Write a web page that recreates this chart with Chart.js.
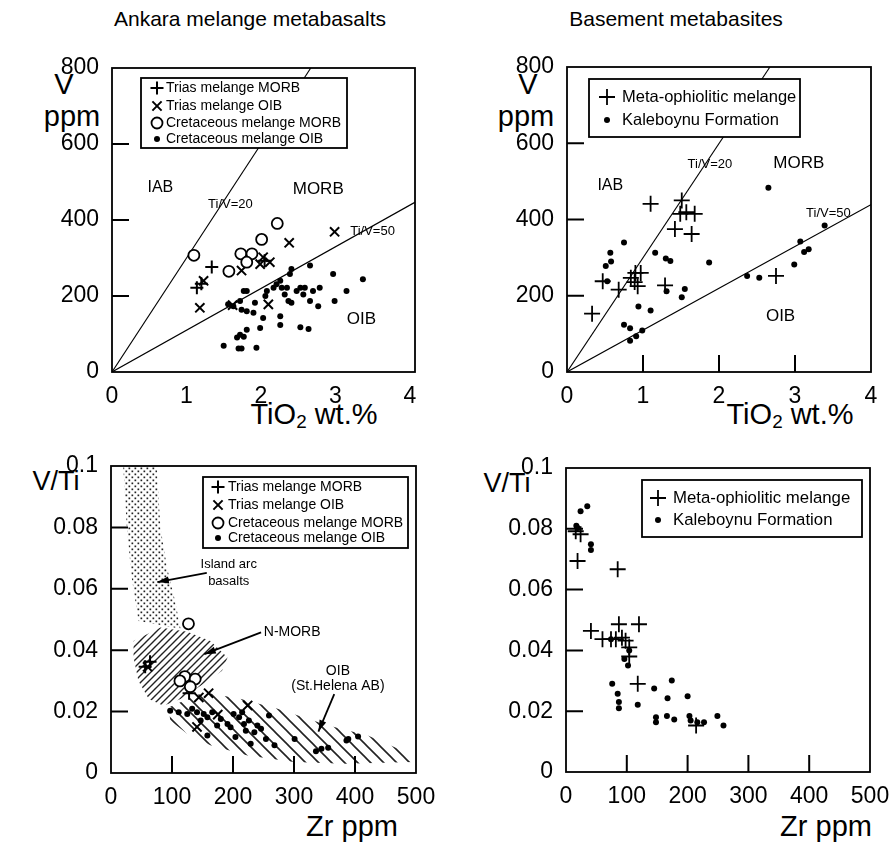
<!DOCTYPE html>
<html>
<head>
<meta charset="utf-8">
<script src="https://cdn.jsdelivr.net/npm/chart.js@4.4.0/dist/chart.umd.min.js"></script>
<style>
  body { margin: 0; background: #fff; width: 892px; height: 848px; position: relative; overflow: hidden;
         font-family: "Liberation Sans", Arial, sans-serif; color: #000; }
  canvas { position: absolute; }
  .t { position: absolute; white-space: nowrap; transform: translate(-50%, -50%); line-height: 1; }
  .t sub { font-size: 65%; vertical-align: -0.25em; }
</style>
</head>
<body>
<div class="t" style="left:250px;top:18px;font-size:21px">Ankara melange metabasalts</div>
<div class="t" style="left:676px;top:18px;font-size:21px">Basement metabasites</div>

<div class="t" style="left:64px;top:84px;font-size:29px">V</div>
<div class="t" style="left:72px;top:116px;font-size:29px">ppm</div>
<div class="t" style="left:314px;top:416px;font-size:29px">TiO<sub>2</sub> wt.%</div>
<div class="t" style="left:528px;top:84px;font-size:29px">V</div>
<div class="t" style="left:526px;top:116px;font-size:29px">ppm</div>
<div class="t" style="left:790px;top:416px;font-size:29px">TiO<sub>2</sub> wt.%</div>
<div class="t" style="left:56px;top:481px;font-size:27px">V/Ti</div>
<div class="t" style="left:352px;top:826px;font-size:29px">Zr ppm</div>
<div class="t" style="left:507px;top:483px;font-size:27px">V/Ti</div>
<div class="t" style="left:826px;top:826px;font-size:29px">Zr ppm</div>

<canvas id="p1"></canvas>
<canvas id="p2"></canvas>
<canvas id="p3"></canvas>
<canvas id="p4"></canvas>

<script>
// ---- Panel 1: Ankara melange, V vs TiO2 ----
const p1TriasMorbTi = [1.14, 1.34, 1.20, 2.05];
const p1TriasMorbV  = [222, 276, 232, 293];
const p1TriasOibTi  = [1.23, 1.18, 2.38, 2.03, 2.12, 1.99, 1.74, 2.10, 1.62, 2.99];
const p1TriasOibV   = [240, 169, 340, 302, 289, 284, 267, 178, 176, 369];
const p1CretMorbTi  = [1.10, 1.57, 1.73, 1.88, 1.81, 2.01, 2.22];
const p1CretMorbV   = [307, 265, 311, 311, 289, 349, 391];
const p1CretOibTi   = [1.56, 1.63, 1.72, 1.77, 1.81, 1.74, 1.81, 1.90, 1.92, 2.06, 2.08, 2.03, 1.99, 1.81, 1.72, 1.68,
                       1.77, 1.70, 1.74, 1.94, 1.50, 2.17, 2.21, 2.26, 2.28, 2.35, 2.41, 2.39, 2.32, 2.37, 2.41, 2.48,
                       2.53, 2.59, 2.66, 2.57, 2.66, 2.70, 2.77, 2.79, 2.97, 2.99, 3.15, 3.37, 2.26, 2.26, 2.53, 2.64];
const p1CretOibV    = [178, 173, 187, 213, 213, 164, 160, 156, 182, 200, 213, 142, 116, 111, 98, 91,
                       93, 62, 62, 64, 69, 222, 231, 240, 222, 222, 271, 258, 204, 187, 182, 213,
                       222, 222, 280, 204, 187, 213, 173, 222, 258, 187, 213, 244, 147, 124, 118, 113];

// ---- Panel 2: Basement, V vs TiO2 ----
const p2MetaTi = [0.33, 0.47, 0.68, 0.84, 0.90, 0.97, 0.89, 0.93, 1.10, 1.29, 1.51, 1.49, 1.57, 1.68, 1.42, 1.64, 2.75];
const p2MetaV  = [153, 238, 216, 247, 260, 260, 236, 225, 441, 227, 450, 415, 419, 415, 375, 362, 252];
const p2KaleTi = [0.75, 0.57, 0.58, 0.51, 0.53, 1.16, 1.30, 1.36, 1.87, 0.94, 1.10, 0.75, 0.83, 0.99, 0.91, 0.83,
                  1.31, 1.55, 1.51, 2.37, 2.53, 2.65, 3.07, 3.12, 3.18, 2.99, 3.39];
const p2KaleV  = [340, 313, 290, 278, 238, 313, 298, 291, 287, 172, 161, 124, 115, 109, 94, 82,
                  212, 218, 196, 252, 247, 483, 342, 315, 322, 282, 384];

// Ti/V reference lines (end points)
const tiV20Ti = [0, 2.67];
const tiV20V  = [0, 800];
const tiV50Ti = [0, 4.1];
const tiV50V  = [0, 450];

// tick labels
const tiTicks = [0, 1, 2, 3, 4];
const vTicks  = [0, 200, 400, 600, 800];
const zrTicks = [0, 100, 200, 300, 400, 500];
const vtiTicks = [0, 0.02, 0.04, 0.06, 0.08, 0.1];

// ---- Panel 3: Ankara melange, V/Ti vs Zr ----
const p3TriasMorbZr = [56, 64, 128];
const p3TriasMorbVTi = [0.0346, 0.0362, 0.026];
const p3TriasOibZr = [60, 160, 144, 224, 141, 175];
const p3TriasOibVTi = [0.0346, 0.026, 0.0246, 0.022, 0.015, 0.019];
const p3CretMorbZr = [127, 121, 138, 130, 113];
const p3CretMorbVTi = [0.0486, 0.0314, 0.0306, 0.0281, 0.030];
const p3CretOibZr = [97, 111, 125, 133, 141, 147, 152, 158, 166, 158, 174, 180, 191, 196, 201, 204, 210, 215,
                     218, 221, 226, 229, 235, 240, 246, 254, 259, 268, 301, 336, 345, 356, 386, 389, 405];
const p3CretOibVTi = [0.0203, 0.0198, 0.0192, 0.0209, 0.0198, 0.0171, 0.0192, 0.0182, 0.0198, 0.0122, 0.0155,
                      0.0176, 0.016, 0.0149, 0.0192, 0.0117, 0.0182, 0.0198, 0.016, 0.0138, 0.0171, 0.0095,
                      0.0133, 0.0155, 0.0144, 0.0111, 0.0187, 0.009, 0.0111, 0.0071, 0.0079, 0.0082, 0.0106,
                      0.0111, 0.0119];

// fields in panel 3 (outline vertices)
const iabFieldZr  = [20, 26, 34, 45, 114, 105, 92, 81, 75];
const iabFieldVTi = [0.1, 0.08, 0.0636, 0.0495, 0.047, 0.056, 0.0668, 0.08, 0.1];
const nmorbFieldZr  = [37, 81, 125, 163, 191, 182, 147, 114, 86, 62, 45, 37];
const nmorbFieldVTi = [0.043, 0.0474, 0.046, 0.043, 0.0376, 0.0333, 0.0284, 0.0241, 0.0219, 0.0241, 0.030, 0.0376];
const oibFieldZr  = [95, 152, 213, 273, 356, 421, 496, 496, 383, 300, 224, 163, 125, 97];
const oibFieldVTi = [0.0214, 0.0263, 0.0241, 0.0209, 0.0155, 0.0122, 0.0057, 0.0036, 0.003, 0.0036, 0.0057,
                     0.009, 0.0128, 0.0171];

// ---- Panel 4: Basement, V/Ti vs Zr ----
const p4MetaZr  = [16, 24, 19, 85, 41, 60, 74, 87, 82, 92, 98, 104, 104, 120, 118, 214];
const p4MetaVTi = [0.0792, 0.0782, 0.0694, 0.0667, 0.0464, 0.0437, 0.0437, 0.0486, 0.0437, 0.0442, 0.0432,
                   0.041, 0.038, 0.0486, 0.029, 0.0153];
const p4KaleZr  = [19, 24, 35, 41, 41, 74, 96, 102, 104, 76, 85, 87, 87, 118, 145, 148, 148, 167, 166, 174,
                   178, 200, 203, 205, 216, 227, 249, 259, 17];
const p4KaleVTi = [0.0803, 0.0858, 0.0874, 0.0749, 0.073, 0.0437, 0.0372, 0.035, 0.040, 0.029, 0.0257, 0.023,
                   0.021, 0.0221, 0.0275, 0.018, 0.0164, 0.0243, 0.0184, 0.0301, 0.0173, 0.0249, 0.0184,
                   0.0169, 0.0164, 0.0164, 0.0184, 0.0153, 0.081];

const FONT = '"Liberation Sans", Arial, sans-serif';
const pts = (xs, ys) => xs.map((x, i) => ({ x: x, y: ys[i] }));

// marker styles
const sym = {
  plus:   { pointStyle: 'cross',    pointRadius: 6.5, pointBorderWidth: 2, pointBorderColor: '#000', pointBackgroundColor: '#000' },
  plusL:  { pointStyle: 'cross',    pointRadius: 8, pointBorderWidth: 1.8, pointBorderColor: '#000', pointBackgroundColor: '#000' },
  cross:  { pointStyle: 'crossRot', pointRadius: 6.5, pointBorderWidth: 2, pointBorderColor: '#000', pointBackgroundColor: '#000' },
  circle: { pointStyle: 'circle',   pointRadius: 5.5, pointBorderWidth: 1.8, pointBorderColor: '#000', pointBackgroundColor: '#fff' },
  dot:    { pointStyle: 'circle',   pointRadius: 3, pointBorderWidth: 0, pointBorderColor: '#000', pointBackgroundColor: '#000' }
};

function lineSet(xs, ys) {
  return { data: pts(xs, ys), showLine: true, borderColor: '#000', borderWidth: 1.1, pointRadius: 0, order: 5 };
}
function markSet(label, xs, ys, s) {
  return Object.assign({ label: label, data: pts(xs, ys), showLine: false }, s);
}

// patterns for the fields
function makePattern(kind) {
  const c = document.createElement('canvas');
  const g = c.getContext('2d');
  if (kind === 'dots') {
    c.width = 6; c.height = 6;
    g.fillStyle = '#222';
    g.fillRect(0.5, 0.5, 1.7, 1.7);
    g.fillRect(3.5, 3.5, 1.7, 1.7);
  } else if (kind === 'fwd') {
    c.width = 7; c.height = 7;
    g.strokeStyle = '#222'; g.lineWidth = 1.4;
    g.beginPath();
    g.moveTo(-1, 8); g.lineTo(8, -1);
    g.moveTo(-1, 1); g.lineTo(1, -1);
    g.moveTo(6, 8); g.lineTo(8, 6);
    g.stroke();
  } else {
    c.width = 13; c.height = 13;
    g.strokeStyle = '#222'; g.lineWidth = 1.6;
    g.beginPath();
    g.moveTo(-1, -1); g.lineTo(14, 14);
    g.moveTo(12, -1); g.lineTo(14, 1);
    g.moveTo(-1, 12); g.lineTo(1, 14);
    g.stroke();
  }
  return g.createPattern(c, 'repeat');
}

// plot frame + inward ticks
const framePlugin = {
  id: 'frame',
  afterDraw(chart, args, opts) {
    const { ctx, chartArea: a } = chart;
    ctx.save();
    ctx.strokeStyle = '#000';
    ctx.lineWidth = 1.8;
    ctx.strokeRect(a.left, a.top, a.right - a.left, a.bottom - a.top);
    ctx.lineWidth = 2;
    ctx.beginPath();
    if (opts.y) {
      const ys = chart.scales.y;
      ys.ticks.forEach(t => {
        if (t.value <= ys.min || t.value >= ys.max) return;
        const py = ys.getPixelForValue(t.value);
        ctx.moveTo(a.left, py); ctx.lineTo(a.left + opts.len, py);
      });
    }
    if (opts.x) {
      const xs = chart.scales.x;
      xs.ticks.forEach(t => {
        if (t.value <= xs.min || t.value >= xs.max) return;
        const px = xs.getPixelForValue(t.value);
        ctx.moveTo(px, a.bottom); ctx.lineTo(px, a.bottom - opts.len);
      });
    }
    ctx.stroke();
    ctx.restore();
  }
};

// shaded fields drawn below the points
const fieldsPlugin = {
  id: 'fields',
  beforeDatasetsDraw(chart, args, opts) {
    if (!opts.list) return;
    const { ctx, chartArea: a } = chart;
    const xs = chart.scales.x, ys = chart.scales.y;
    ctx.save();
    ctx.beginPath();
    ctx.rect(a.left, a.top, a.right - a.left, a.bottom - a.top);
    ctx.clip();
    opts.list.forEach(f => {
      ctx.beginPath();
      f.xs.forEach((v, i) => {
        const px = xs.getPixelForValue(v), py = ys.getPixelForValue(f.ys[i]);
        if (i === 0) ctx.moveTo(px, py); else ctx.lineTo(px, py);
      });
      ctx.closePath();
      ctx.fillStyle = makePattern(f.pattern);
      ctx.fill();
    });
    ctx.restore();
  }
};

// region labels and arrows
const notesPlugin = {
  id: 'notes',
  afterDatasetsDraw(chart, args, opts) {
    if (!opts.list) return;
    const { ctx } = chart;
    const xs = chart.scales.x, ys = chart.scales.y;
    ctx.save();
    ctx.fillStyle = '#000';
    ctx.strokeStyle = '#000';
    ctx.textAlign = 'center';
    ctx.textBaseline = 'middle';
    opts.list.forEach(n => {
      if (n.text) {
        ctx.font = (n.size || 15) + 'px ' + FONT;
        ctx.fillText(n.text, xs.getPixelForValue(n.x), ys.getPixelForValue(n.y));
      }
      if (n.arrow) {
        const x1 = xs.getPixelForValue(n.arrow[0]), y1 = ys.getPixelForValue(n.arrow[1]);
        const x2 = xs.getPixelForValue(n.arrow[2]), y2 = ys.getPixelForValue(n.arrow[3]);
        const ang = Math.atan2(y2 - y1, x2 - x1);
        ctx.lineWidth = 1.8;
        ctx.beginPath(); ctx.moveTo(x1, y1); ctx.lineTo(x2, y2); ctx.stroke();
        ctx.beginPath();
        ctx.moveTo(x2, y2);
        ctx.lineTo(x2 - 12 * Math.cos(ang - 0.3), y2 - 12 * Math.sin(ang - 0.3));
        ctx.lineTo(x2 - 12 * Math.cos(ang + 0.3), y2 - 12 * Math.sin(ang + 0.3));
        ctx.closePath(); ctx.fill();
      }
    });
    ctx.restore();
  }
};

// boxed legend inside the plot
const boxLegendPlugin = {
  id: 'boxLegend',
  afterDraw(chart, args, opts) {
    const { ctx, chartArea: a } = chart;
    const bx = a.left + opts.x, by = a.top + opts.y;
    ctx.save();
    ctx.fillStyle = '#fff';
    ctx.fillRect(bx, by, opts.w, opts.h);
    ctx.strokeStyle = '#000';
    ctx.lineWidth = 1.8;
    ctx.strokeRect(bx, by, opts.w, opts.h);
    ctx.font = opts.size + 'px ' + FONT;
    ctx.textBaseline = 'middle';
    chart.data.datasets.forEach(ds => {
      if (!ds.label) return;
      const i = opts.order.indexOf(ds.label);
      if (i < 0) return;
      const cy = by + opts.rows[i];
      ctx.strokeStyle = ds.pointBorderColor;
      ctx.fillStyle = ds.pointBackgroundColor;
      ctx.lineWidth = ds.pointBorderWidth || 1;
      Chart.helpers.drawPoint(ctx, {
        pointStyle: ds.pointStyle, rotation: 0,
        radius: ds.pointRadius, borderWidth: ds.pointBorderWidth
      }, bx + opts.sx, cy);
      ctx.fillStyle = '#000';
      ctx.fillText(ds.label, bx + opts.tx, cy);
    });
    ctx.restore();
  }
};

Chart.register(framePlugin, fieldsPlugin, notesPlugin, boxLegendPlugin);

const fmtTick = v => (v === 0 ? '0' : String(+v.toFixed(2)));

function makeChart(id, box, datasets, xr, xTicks, yr, yTicks, plug) {
  const cv = document.getElementById(id);
  const padL = 70, padT = 20, padR = 30, padB = 42;
  const w = box.R - box.L + padL + padR, h = box.B - box.T + padT + padB;
  cv.width = w; cv.height = h;
  cv.style.left = (box.L - padL) + 'px';
  cv.style.top = (box.T - padT) + 'px';
  return new Chart(cv, {
    type: 'scatter',
    data: { datasets: datasets },
    options: {
      responsive: false,
      animation: false,
      layout: { padding: { left: 0, top: padT, right: padR, bottom: 0 } },
      scales: {
        x: {
          type: 'linear', min: xr[0], max: xr[1],
          afterFit: s => { s.height = padB; },
          afterBuildTicks: s => { s.ticks = xTicks.map(v => ({ value: v })); },
          grid: { display: false }, border: { display: false },
          ticks: { color: '#000', padding: 3, font: { family: FONT, size: 23 }, callback: fmtTick, maxRotation: 0, autoSkip: false }
        },
        y: {
          type: 'linear', min: yr[0], max: yr[1],
          afterFit: s => { s.width = padL; },
          afterBuildTicks: s => { s.ticks = yTicks.map(v => ({ value: v })); },
          grid: { display: false }, border: { display: false },
          ticks: { color: '#000', padding: 5, font: { family: FONT, size: 23 }, callback: fmtTick, autoSkip: false }
        }
      },
      plugins: Object.assign({ legend: { display: false }, tooltip: { enabled: false } }, plug)
    }
  });
}

// ---- build panel 1 ----
makeChart('p1', { L: 112, R: 415, T: 68, B: 372 }, [
  lineSet(tiV20Ti, tiV20V),
  lineSet(tiV50Ti, tiV50V),
  markSet('Cretaceous melange OIB', p1CretOibTi, p1CretOibV, sym.dot),
  markSet('Cretaceous melange MORB', p1CretMorbTi, p1CretMorbV, sym.circle),
  markSet('Trias melange OIB', p1TriasOibTi, p1TriasOibV, sym.cross),
  markSet('Trias melange MORB', p1TriasMorbTi, p1TriasMorbV, sym.plus)
], [0, 4.07], tiTicks, [0, 800], vTicks, {
  frame: { x: false, y: true, len: 17 },
  notes: { list: [
    { text: 'IAB', x: 0.65, y: 484, size: 16 },
    { text: 'MORB', x: 2.77, y: 482, size: 17 },
    { text: 'Ti/V=20', x: 1.59, y: 440, size: 13 },
    { text: 'Ti/V=50', x: 3.50, y: 369, size: 13 },
    { text: 'OIB', x: 3.35, y: 138, size: 17 }
  ] },
  boxLegend: { x: 29, y: 10, w: 206, h: 70, size: 14, sx: 16, tx: 25, rows: [10, 28, 45, 61],
    order: ['Trias melange MORB', 'Trias melange OIB', 'Cretaceous melange MORB', 'Cretaceous melange OIB'] }
});

// ---- build panel 2 ----
makeChart('p2', { L: 567, R: 871, T: 67, B: 372 }, [
  lineSet(tiV20Ti, tiV20V),
  lineSet(tiV50Ti, tiV50V),
  markSet('Kaleboynu Formation', p2KaleTi, p2KaleV, sym.dot),
  markSet('Meta-ophiolitic melange', p2MetaTi, p2MetaV, sym.plusL)
], [0, 4], tiTicks, [0, 800], vTicks, {
  frame: { x: true, y: true, len: 17 },
  notes: { list: [
    { text: 'IAB', x: 0.57, y: 490, size: 16 },
    { text: 'MORB', x: 3.05, y: 547, size: 17 },
    { text: 'Ti/V=20', x: 1.88, y: 545, size: 13 },
    { text: 'Ti/V=50', x: 3.44, y: 415, size: 13 },
    { text: 'OIB', x: 2.81, y: 146, size: 17 }
  ] },
  boxLegend: { x: 22, y: 12, w: 211, h: 58, size: 16.5, sx: 18, tx: 33, rows: [18, 41],
    order: ['Meta-ophiolitic melange', 'Kaleboynu Formation'] }
});

// ---- build panel 3 ----
makeChart('p3', { L: 111, R: 416, T: 466, B: 773 }, [
  markSet('Cretaceous melange OIB', p3CretOibZr, p3CretOibVTi, sym.dot),
  markSet('Cretaceous melange MORB', p3CretMorbZr, p3CretMorbVTi, sym.circle),
  markSet('Trias melange OIB', p3TriasOibZr, p3TriasOibVTi, sym.cross),
  markSet('Trias melange MORB', p3TriasMorbZr, p3TriasMorbVTi, sym.plus)
], [0, 500], zrTicks, [0, 0.1], vtiTicks, {
  frame: { x: true, y: true, len: 17 },
  fields: { list: [
    { xs: iabFieldZr, ys: iabFieldVTi, pattern: 'dots' },
    { xs: nmorbFieldZr, ys: nmorbFieldVTi, pattern: 'fwd' },
    { xs: oibFieldZr, ys: oibFieldVTi, pattern: 'back' }
  ] },
  notes: { list: [
    { text: 'Island arc', x: 193, y: 0.0679, size: 13 },
    { text: 'basalts', x: 193, y: 0.0625, size: 13 },
    { arrow: [157, 0.0652, 76, 0.0622] },
    { text: 'N-MORB', x: 297, y: 0.046, size: 14 },
    { arrow: [246, 0.0458, 153, 0.0387] },
    { text: 'OIB', x: 372, y: 0.0333, size: 14 },
    { text: '(St.Helena AB)', x: 372, y: 0.0284, size: 14 },
    { arrow: [366, 0.0257, 340, 0.0135] }
  ] },
  boxLegend: { x: 92, y: 11, w: 205, h: 71, size: 14, sx: 15, tx: 25, rows: [10, 28, 46, 61],
    order: ['Trias melange MORB', 'Trias melange OIB', 'Cretaceous melange MORB', 'Cretaceous melange OIB'] }
});

// ---- build panel 4 ----
makeChart('p4', { L: 566, R: 870, T: 468, B: 772 }, [
  markSet('Kaleboynu Formation', p4KaleZr, p4KaleVTi, sym.dot),
  markSet('Meta-ophiolitic melange', p4MetaZr, p4MetaVTi, sym.plusL)
], [0, 500], zrTicks, [0, 0.1], vtiTicks, {
  frame: { x: true, y: true, len: 17 },
  boxLegend: { x: 76, y: 12, w: 220, h: 57, size: 16.8, sx: 16, tx: 31, rows: [18, 40],
    order: ['Meta-ophiolitic melange', 'Kaleboynu Formation'] }
});
</script>
</body>
</html>
